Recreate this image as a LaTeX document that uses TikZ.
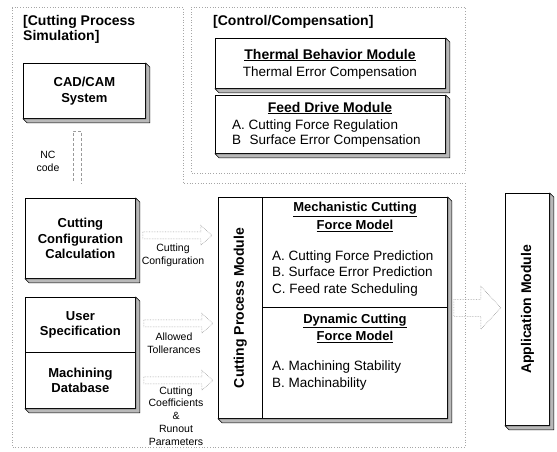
\documentclass[tikz,border=0pt]{standalone}
\usepackage{fontspec}
\setmainfont{Liberation Sans}
\usetikzlibrary{calc}

% extruded right/bottom edge of a slab: (#1)=SW, (#2)=SE, (#3)=NE
\newcommand\extrude[3]{%
  \filldraw[extr] (#1) -- ($(#1)+(4,4)$) -- ($(#2)+(4,4)$) -- ($(#3)+(4,4)$) -- (#3) -- (#2) -- cycle;}

\begin{document}
\begin{tikzpicture}[x=1pt,y=-1pt,
  region/.style={draw=gray!70, dotted, line width=0.7pt},
  slab/.style={draw=black, line width=0.8pt, fill=white, inner sep=0pt, anchor=north west},
  extr/.style={draw=black, line width=0.5pt, fill=gray!55},
  flowarrow/.style={draw=gray!85, densely dotted, line width=0.6pt},
  ncline/.style={draw=gray!80, densely dashed, line width=0.6pt},
  lbl/.style={font=\fontsize{13}{15.5}\selectfont\bfseries, align=center},
  hdr/.style={font=\fontsize{14}{15}\selectfont\bfseries, align=left, anchor=north west, inner sep=0pt},
  ttl/.style={font=\fontsize{13}{17.5}\selectfont\bfseries, align=center, inner sep=0pt},
  cttl/.style={font=\fontsize{14}{16}\selectfont\bfseries, align=center, inner sep=0pt},
  body/.style={font=\fontsize{13.5}{16.5}\selectfont, align=left, anchor=west, inner sep=0pt},
  cbody/.style={font=\fontsize{13.5}{15}\selectfont, align=left, anchor=west, inner sep=0pt},
  vlbl/.style={font=\fontsize{14}{16}\selectfont\bfseries, rotate=90, inner sep=0pt},
  small/.style={font=\fontsize{10.5}{13}\selectfont, align=center, inner sep=0pt},
  pics/hollowarrow/.style n args={4}{code={%
    \draw[flowarrow] (0,-#3) -- (#1,-#3) -- (#1,-#4) -- (#2,0) -- (#1,#4) -- (#1,#3) -- (0,#3) -- cycle;}}
]
\useasboundingbox (0,0) rectangle (557,451);

% dotted grouping regions
\draw[region] (12,7) -- (183,7) -- (183,183) -- (465,183) -- (465,447) -- (12,447) -- cycle;
\draw[region] (191,7) -- (465,7) -- (465,173) -- (191,173) -- cycle;

\node[hdr] (hsim) at (23,15) {[Cutting Process\\Simulation]};
\node[hdr] (hctl) at (213,15) {[Control/Compensation]};

% simulation side
\node[slab, lbl, minimum width=122pt, minimum height=55pt] (cad) at (23,63) {CAD/CAM\\System};
\extrude{cad.south west}{cad.south east}{cad.north east}

\node[slab, lbl, minimum width=110pt, minimum height=80pt] (ccc) at (25,198) {Cutting\\Configuration\\Calculation};
\extrude{ccc.south west}{ccc.south east}{ccc.north east}

\node[slab, lbl, minimum width=110pt, minimum height=55pt] (us) at (25,297) {User\\Specification};
\node[slab, lbl, minimum width=110pt, minimum height=56pt] (md) at (25,352) {Machining\\Database};
\extrude{md.south west}{md.south east}{us.north east}

% NC code link
\draw[ncline] ($(cad.south)+(-11,62)$) -- ($(cad.south)+(-11,12)$) -- ($(cad.south)+(-3,12)$) -- ($(ccc.north)+(1,-14)$);
\node[small] (nc) at (48,161) {NC\\code};

% control / compensation
\node[slab, minimum width=230pt, minimum height=50pt] (thm) at (215,38) {};
\extrude{thm.south west}{thm.south east}{thm.north east}
\node[cttl] (thmt) at (330,55) {\underline{Thermal Behavior Module}};
\node[cbody, anchor=center] (thmb) at (330,73) {Thermal Error Compensation};

\node[slab, minimum width=230pt, minimum height=58pt] (fdm) at (215,95) {};
\extrude{fdm.south west}{fdm.south east}{fdm.north east}
\node[cttl] (fdmt) at (330,108) {\underline{Feed Drive Module}};
\node[cbody] (fdmb) at (232,134) {A. Cutting Force Regulation\\B\hspace{0.35em} Surface Error Compensation};

% cutting process module
\node[slab, minimum width=44pt, minimum height=221pt] (cpm) at (218,197) {};
\node[slab, minimum width=185pt, minimum height=110pt] (mech) at (262,197) {};
\node[slab, minimum width=185pt, minimum height=111pt] (dyn) at (262,307) {};
\extrude{cpm.south west}{dyn.south east}{mech.north east}
\node[vlbl] (cpmt) at (cpm.center) {Cutting Process Module};

\node[ttl] (mecht) at (355,217) {\underline{Mechanistic Cutting}\\\underline{Force Model}};
\node[body] (mechb) at (272,273.5) {A. Cutting Force Prediction\\B. Surface Error Prediction\\C. Feed rate Scheduling};
\node[ttl] (dynt) at (355,328.5) {\underline{Dynamic Cutting}\\\underline{Force Model}};
\node[body] (dynb) at (272,375.5) {A. Machining Stability\\B. Machinability};

% application module
\node[slab, minimum width=44pt, minimum height=232pt] (app) at (505,193) {};
\extrude{app.south west}{app.south east}{app.north east}
\node[vlbl] (appt) at (app.center) {Application Module};

% data flows into the cutting process module
\pic at ($(ccc.east)+(7,-3)$) {hollowarrow={58}{69}{3.5}{10}};
\node[small] (lcfg) at (173,255.5) {Cutting\\Configuration};
\pic at ($(us.east)+(8,-1.5)$) {hollowarrow={58}{69}{3.5}{10}};
\node[small] (ltol) at (174,343.5) {Allowed\\Tollerances};
\pic at ($(md.east)+(8,0)$) {hollowarrow={58}{69}{3.5}{10}};
\node[small, font=\fontsize{10.5}{12.8}\selectfont] (lcoef) at (176,416) {Cutting\\Coefficients\\\&\\Runout\\Parameters};

% output to the application module
\pic at ($(mech.south east)+(6,0)$) {hollowarrow={27}{47}{8.5}{21.5}};
\end{tikzpicture}
\end{document}
